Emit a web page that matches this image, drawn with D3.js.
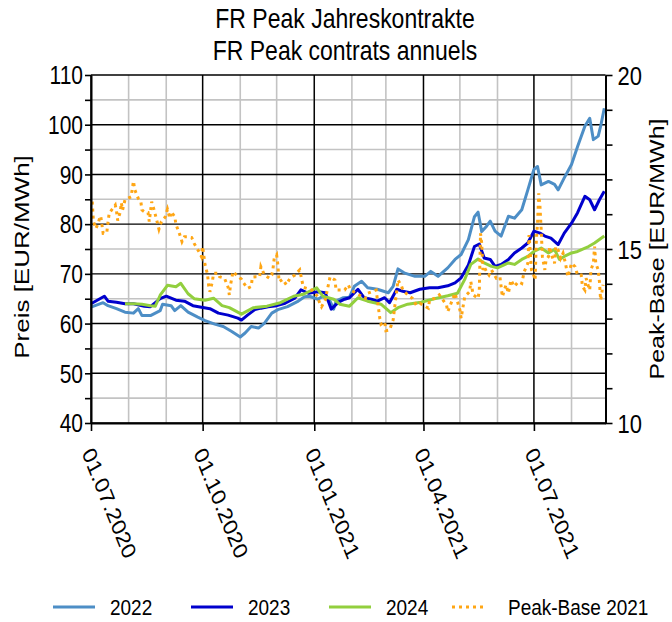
<!DOCTYPE html>
<html>
<head>
<meta charset="utf-8">
<script src="https://cdn.jsdelivr.net/npm/d3@7"></script>
<style>
  html, body { margin: 0; padding: 0; background: #fff; }
  svg { display: block; }
  text { font-family: "Liberation Sans", Arial, sans-serif; fill: #000; }
</style>
</head>
<body>
<svg id="chart" width="672" height="622"></svg>
<script>
// ---------- DATA ----------
const titleLines = ["FR Peak Jahreskontrakte", "FR Peak contrats annuels"];
const leftTicks = [40, 50, 60, 70, 80, 90, 100, 110];
const rightTicks = [10, 15, 20];
const xTickDates = ["2020-07-01", "2020-10-01", "2021-01-01", "2021-04-01", "2021-07-01"];
const xTickLabels = ["01.07.2020", "01.10.2020", "01.01.2021", "01.04.2021", "01.07.2021"];
const seriesNames = ["2022", "2023", "2024", "Peak-Base 2021"];

const dates2022 = ["2020-07-01","2020-07-11","2020-07-15","2020-07-22","2020-07-29","2020-08-05","2020-08-09","2020-08-12","2020-08-19","2020-08-27","2020-08-29","2020-09-05","2020-09-08","2020-09-13","2020-09-19","2020-09-27","2020-10-03","2020-10-11","2020-10-18","2020-10-25","2020-11-01","2020-11-05","2020-11-10","2020-11-16","2020-11-21","2020-11-27","2020-12-02","2020-12-10","2020-12-18","2020-12-24","2020-12-28","2021-01-04","2021-01-08","2021-01-14","2021-01-17","2021-01-19","2021-01-25","2021-01-30","2021-02-03","2021-02-09","2021-02-14","2021-02-22","2021-03-03","2021-03-07","2021-03-11","2021-03-16","2021-03-25","2021-04-02","2021-04-07","2021-04-13","2021-04-21","2021-04-27","2021-05-02","2021-05-08","2021-05-13","2021-05-16","2021-05-19","2021-05-23","2021-05-26","2021-05-30","2021-06-04","2021-06-10","2021-06-15","2021-06-21","2021-06-26","2021-07-01","2021-07-04","2021-07-07","2021-07-13","2021-07-18","2021-07-21","2021-07-26","2021-08-01","2021-08-06","2021-08-12","2021-08-16","2021-08-19","2021-08-23","2021-08-25","2021-08-28"];
const vals2022 = [63.3,64.2,63.6,63.0,62.3,62.1,63.0,61.6,61.6,62.6,63.9,63.6,62.6,63.6,62.3,61.3,60.6,59.9,59.4,58.4,57.3,58.1,59.4,59.1,60.1,62.1,62.8,63.4,64.4,65.4,65.5,64.9,65.5,64.5,62.9,64.5,65.2,65.3,67.5,68.5,67.2,66.9,66.2,67.5,71.0,70.2,69.5,69.5,70.5,69.5,71.2,72.9,73.9,76.9,81.5,82.4,78.5,79.6,80.6,78.6,77.6,81.6,81.2,82.9,86.9,91.0,91.6,87.9,88.6,88.0,86.9,89.3,92.0,95.6,99.7,101.3,97.0,97.7,99.7,103.3];

const dates2023 = ["2020-07-01","2020-07-12","2020-07-15","2020-07-22","2020-07-29","2020-08-05","2020-08-14","2020-08-19","2020-08-27","2020-09-01","2020-09-09","2020-09-16","2020-09-23","2020-09-30","2020-10-07","2020-10-14","2020-10-22","2020-10-30","2020-11-02","2020-11-07","2020-11-13","2020-11-18","2020-11-24","2020-12-01","2020-12-08","2020-12-16","2020-12-21","2020-12-27","2021-01-04","2021-01-10","2021-01-15","2021-01-21","2021-01-26","2021-01-30","2021-02-06","2021-02-11","2021-02-17","2021-02-22","2021-02-28","2021-03-04","2021-03-10","2021-03-15","2021-03-21","2021-03-29","2021-04-06","2021-04-13","2021-04-21","2021-04-27","2021-05-02","2021-05-08","2021-05-13","2021-05-17","2021-05-21","2021-05-26","2021-05-30","2021-06-04","2021-06-10","2021-06-15","2021-06-21","2021-06-26","2021-07-01","2021-07-06","2021-07-10","2021-07-15","2021-07-21","2021-07-26","2021-08-01","2021-08-06","2021-08-12","2021-08-16","2021-08-20","2021-08-24","2021-08-28"];
const vals2023 = [64.0,65.5,64.5,64.3,64.0,64.0,63.5,63.4,65.0,65.5,64.7,64.5,63.6,63.3,63.0,62.1,61.7,61.1,60.7,61.7,62.8,63.1,63.4,63.6,64.1,65.1,66.8,66.1,66.4,66.2,62.9,64.3,64.9,65.2,66.9,65.2,64.9,64.5,65.2,64.2,66.9,66.5,66.2,66.9,67.2,67.2,67.6,68.2,69.2,71.8,75.5,76.0,73.2,72.9,71.5,71.9,72.9,74.2,75.2,76.2,78.6,78.2,77.6,77.2,75.9,78.2,80.2,82.3,85.6,84.9,82.9,84.9,86.6];

const dates2024 = ["2020-07-29","2020-08-05","2020-08-12","2020-08-19","2020-08-23","2020-08-27","2020-09-02","2020-09-09","2020-09-13","2020-09-19","2020-09-24","2020-10-03","2020-10-10","2020-10-17","2020-10-23","2020-11-02","2020-11-12","2020-11-23","2020-12-04","2020-12-15","2020-12-23","2021-01-03","2021-01-08","2021-01-17","2021-01-22","2021-01-30","2021-02-06","2021-02-14","2021-02-25","2021-03-05","2021-03-11","2021-03-19","2021-03-30","2021-04-10","2021-04-21","2021-04-29","2021-05-05","2021-05-10","2021-05-16","2021-05-21","2021-05-27","2021-06-01","2021-06-10","2021-06-15","2021-06-21","2021-06-26","2021-07-01","2021-07-07","2021-07-13","2021-07-18","2021-07-22","2021-07-26","2021-08-01","2021-08-06","2021-08-15","2021-08-20","2021-08-28"];
const vals2024 = [64.0,64.0,63.9,63.6,63.5,65.7,67.7,67.4,68.1,66.0,65.0,64.7,65.1,63.6,63.2,61.9,63.2,63.5,64.2,65.5,65.9,67.2,65.5,64.9,63.9,63.5,65.2,64.5,63.9,62.2,63.2,63.9,64.3,65.0,65.6,66.1,68.9,71.9,73.0,72.2,71.5,71.2,72.2,71.9,72.9,73.5,74.5,75.2,74.2,74.9,72.9,73.5,74.2,74.5,75.5,76.2,77.6];

const datesPB = ["2020-07-02","2020-07-03","2020-07-05","2020-07-07","2020-07-08","2020-07-09","2020-07-11","2020-07-14","2020-07-15","2020-07-16","2020-07-21","2020-07-22","2020-07-23","2020-07-25","2020-07-26","2020-07-27","2020-07-29","2020-07-31","2020-08-03","2020-08-05","2020-08-06","2020-08-09","2020-08-11","2020-08-12","2020-08-14","2020-08-17","2020-08-18","2020-08-20","2020-08-22","2020-08-24","2020-08-26","2020-08-28","2020-08-31","2020-09-02","2020-09-04","2020-09-05","2020-09-08","2020-09-09","2020-09-12","2020-09-14","2020-09-16","2020-09-18","2020-09-22","2020-09-24","2020-09-28","2020-09-30","2020-10-01","2020-10-03","2020-10-05","2020-10-06","2020-10-07","2020-10-09","2020-10-10","2020-10-14","2020-10-15","2020-10-19","2020-10-22","2020-10-23","2020-10-24","2020-10-26","2020-10-29","2020-11-02","2020-11-03","2020-11-07","2020-11-10","2020-11-11","2020-11-14","2020-11-17","2020-11-18","2020-11-21","2020-11-25","2020-11-27","2020-11-28","2020-11-29","2020-12-01","2020-12-02","2020-12-03","2020-12-06","2020-12-09","2020-12-12","2020-12-16","2020-12-20","2020-12-23","2020-12-30","2021-01-04","2021-01-05","2021-01-07","2021-01-10","2021-01-14","2021-01-18","2021-01-19","2021-01-26","2021-01-29","2021-01-31","2021-02-12","2021-02-14","2021-02-21","2021-02-24","2021-02-25","2021-02-28","2021-03-01","2021-03-04","2021-03-07","2021-03-11","2021-03-14","2021-03-15","2021-03-19","2021-03-23","2021-03-26","2021-03-29","2021-04-05","2021-04-06","2021-04-10","2021-04-14","2021-04-20","2021-04-21","2021-04-27","2021-05-01","2021-05-02","2021-05-05","2021-05-09","2021-05-10","2021-05-12","2021-05-16","2021-05-17","2021-05-18","2021-05-19","2021-05-20","2021-05-21","2021-05-23","2021-05-25","2021-05-27","2021-05-31","2021-06-03","2021-06-05","2021-06-08","2021-06-10","2021-06-12","2021-06-15","2021-06-18","2021-06-21","2021-06-23","2021-06-26","2021-06-27","2021-06-29","2021-06-30","2021-07-02","2021-07-03","2021-07-04","2021-07-05","2021-07-06","2021-07-07","2021-07-08","2021-07-10","2021-07-11","2021-07-13","2021-07-14","2021-07-15","2021-07-18","2021-07-19","2021-07-21","2021-07-23","2021-07-25","2021-07-27","2021-07-29","2021-08-01","2021-08-04","2021-08-06","2021-08-09","2021-08-10","2021-08-12","2021-08-13","2021-08-15","2021-08-16","2021-08-17","2021-08-19","2021-08-20","2021-08-21","2021-08-23","2021-08-24","2021-08-25","2021-08-27"];
const valsPB = [16.36,15.79,15.59,15.74,15.88,15.95,15.45,15.47,15.76,16.03,16.26,16.09,15.82,16.05,16.33,16.12,16.41,16.45,16.5,16.95,16.71,16.45,16.38,16.12,16.07,16.05,15.79,16.36,16.12,15.85,15.57,15.79,15.91,16.14,15.88,16.07,15.93,15.71,15.43,15.21,15.35,15.35,15.33,15.16,14.92,14.78,15.07,14.54,14.28,13.94,13.77,14.06,14.30,14.30,14.20,14.16,13.90,13.68,13.97,14.35,14.25,14.13,14.06,13.87,13.92,14.19,14.20,14.20,14.49,14.25,14.16,14.25,14.44,14.73,14.83,14.54,14.06,14.13,13.97,14.16,14.25,14.40,13.90,13.82,13.63,13.49,13.34,13.53,14.20,14.11,13.82,13.82,13.97,13.82,13.58,13.73,13.82,13.01,12.84,12.91,12.65,12.67,12.96,14.11,13.92,13.82,13.68,13.58,13.39,13.44,13.30,13.53,13.58,13.68,13.39,13.20,13.73,13.25,13.01,13.63,13.77,14.06,13.68,13.58,13.82,15.45,15.16,14.40,14.49,14.35,14.25,14.40,14.16,14.20,13.63,13.97,13.73,14.11,13.92,14.06,14.01,14.35,14.59,15.40,14.40,14.35,14.11,15.26,15.74,16.60,16.22,15.55,14.78,14.40,14.68,14.78,15.07,14.88,14.59,15.07,14.97,14.73,14.88,14.59,14.20,14.59,14.49,14.25,14.25,13.92,13.82,14.16,13.92,13.82,14.40,14.59,15.07,14.59,14.40,14.06,13.53,13.97];

// ---------- CHART ----------
const parse = d3.utcParse("%Y-%m-%d");
const svg = d3.select("#chart");
const L = 91, R = 605.5, T = 75, B = 423;
const FONT = '"Liberation Sans", Arial, sans-serif';

const x = d3.scaleUtc().domain([parse("2020-07-01"), parse("2021-08-29")]).range([L, R]);
const yL = d3.scaleLinear().domain([40, 110]).range([B, T]);
const yR = d3.scaleLinear().domain([10, 20]).range([B, T]);

const colors = {"2022": "#4d8ec6", "2023": "#0000cd", "2024": "#92cf3e", "pb": "#ffa614"};

// grid: minor (grey)
const g = svg.append("g");
const months = d3.utcMonth.range(parse("2020-07-01"), parse("2021-08-29"));
g.selectAll("line.vmin").data(months).join("line")
  .attr("x1", d => x(d)).attr("x2", d => x(d)).attr("y1", T).attr("y2", B)
  .attr("stroke", "#c3c3c3").attr("stroke-width", 1.6);
const halfTicks = d3.range(45, 110, 10);
g.selectAll("line.hmin").data(halfTicks).join("line")
  .attr("x1", L).attr("x2", R).attr("y1", d => yL(d)).attr("y2", d => yL(d))
  .attr("stroke", "#c3c3c3").attr("stroke-width", 1.6);
// grid: major (black)
g.selectAll("line.vmaj").data(xTickDates).join("line")
  .attr("x1", d => x(parse(d))).attr("x2", d => x(parse(d))).attr("y1", T).attr("y2", B)
  .attr("stroke", "#000").attr("stroke-width", 1.4);
g.selectAll("line.hmaj").data(leftTicks).join("line")
  .attr("x1", L).attr("x2", R).attr("y1", d => yL(d)).attr("y2", d => yL(d))
  .attr("stroke", "#000").attr("stroke-width", 1.4);

// series
const lineL = d3.line().x(d => x(d[0])).y(d => yL(d[1]));
const lineR = d3.line().x(d => x(d[0])).y(d => yR(d[1]));
function pairs(ds, vs) { return ds.map((d, i) => [parse(d), vs[i]]); }

svg.append("path").datum(pairs(dates2022, vals2022)).attr("d", lineL)
  .attr("fill", "none").attr("stroke", colors["2022"]).attr("stroke-width", 3).attr("stroke-linejoin", "round");
svg.append("path").datum(pairs(dates2023, vals2023)).attr("d", lineL)
  .attr("fill", "none").attr("stroke", colors["2023"]).attr("stroke-width", 3).attr("stroke-linejoin", "round");
svg.append("path").datum(pairs(dates2024, vals2024)).attr("d", lineL)
  .attr("fill", "none").attr("stroke", colors["2024"]).attr("stroke-width", 3).attr("stroke-linejoin", "round");
svg.append("path").datum(pairs(datesPB, valsPB)).attr("d", lineR)
  .attr("fill", "none").attr("stroke", colors.pb).attr("stroke-width", 3).attr("stroke-dasharray", "3,4");

// axes
const axL = svg.append("g").attr("transform", `translate(${L},0)`)
  .call(d3.axisLeft(yL).tickValues(d3.range(40, 111, 5)).tickSize(6).tickSizeOuter(0).tickFormat(d => leftTicks.includes(d) ? d : ""));
const axR = svg.append("g").attr("transform", `translate(${R},0)`)
  .call(d3.axisRight(yR).tickValues(d3.range(10, 21, 1)).tickSize(7).tickSizeOuter(0).tickFormat(d => rightTicks.includes(d) ? d : ""));
const axB = svg.append("g").attr("transform", `translate(0,${B})`)
  .call(d3.axisBottom(x).tickValues(xTickDates.map(parse)).tickSize(8).tickSizeOuter(0).tickFormat((d, i) => xTickLabels[i]));
[axL, axR, axB].forEach(a => {
  a.select(".domain").attr("stroke", "#000").attr("stroke-width", 2);
  a.selectAll(".tick line").attr("stroke", "#000").attr("stroke-width", 1.6);
  a.selectAll("text").style("font-family", FONT).attr("fill", "#000");
});
axL.selectAll("text").style("font-size", "21px").attr("x", 0).attr("dy", "0.35em")
  .attr("transform", "translate(-8,0) scale(1,1.2)");
axR.selectAll("text").style("font-size", "22px").attr("x", 0).attr("dy", "0.35em")
  .attr("transform", "translate(12,0) scale(1,1.2)");
axB.selectAll("text").style("font-size", "20px")
  .attr("text-anchor", "start").attr("x", 0).attr("y", 0).attr("dy", 0)
  .attr("transform", "translate(-10,30) scale(1,1.19) rotate(64.5)");

// titles
svg.append("g").selectAll("text").data(titleLines).join("text")
  .attr("transform", (d, i) => `translate(345,${28 + i * 32}) scale(1,1.2)`).attr("text-anchor", "middle")
  .style("font-size", "23px").text(d => d);
svg.append("text").attr("transform", "translate(29,257) scale(1,1.3) rotate(-90)").attr("text-anchor", "middle")
  .style("font-size", "20px").text("Preis [EUR/MWh]");
svg.append("text").attr("transform", "translate(664,249) scale(1,1.25) rotate(-90)").attr("text-anchor", "middle")
  .style("font-size", "20px").text("Peak-Base [EUR/MWh]");

// legend
const legX = [53, 191, 329, 452];
const leg = svg.append("g");
seriesNames.forEach((name, i) => {
  const key = i < 3 ? name : "pb";
  leg.append("line").attr("x1", legX[i]).attr("x2", legX[i] + (i < 3 ? 42 : 34)).attr("y1", 607).attr("y2", 607)
    .attr("stroke", colors[key]).attr("stroke-width", 3).attr("stroke-dasharray", i < 3 ? null : "3,4");
  leg.append("text").attr("transform", `translate(${legX[i] + (i < 3 ? 57 : 56)},607) scale(1,1.2)`)
    .attr("dy", "0.35em").style("font-size", "19px").text(name);
});
</script>
</body>
</html>
